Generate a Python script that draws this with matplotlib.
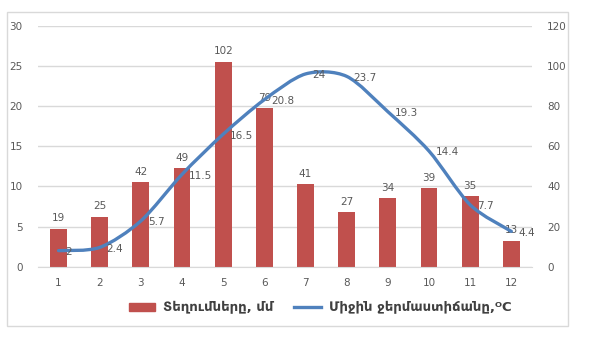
import matplotlib.pyplot as plt
import numpy as np
from matplotlib.path import Path
from matplotlib.patches import PathPatch, Rectangle
from matplotlib.lines import Line2D

# ամիսներ, տեղումներ (մմ) և միջին ջերմաստիճան (°C)
months = np.arange(1, 13)
precip = [19, 25, 42, 49, 102, 79, 41, 27, 34, 39, 35, 13]
temps = [2, 2.4, 5.7, 11.5, 16.5, 20.8, 24, 23.7, 19.3, 14.4, 7.7, 4.4]

bar_color = '#C0504D'
line_color = '#4F81BD'
text_color = '#595959'
grid_color = '#D9D9D9'

plt.rcParams['font.family'] = ['DejaVu Sans']


def smooth_path(x, y, k=7.0):
    # Catmull-Rom -> cubic Bezier, հարթեցված գիծ
    pts = np.column_stack([x, y]).astype(float)
    ext = np.vstack([pts[0], pts, pts[-1]])
    verts = [pts[0]]
    codes = [Path.MOVETO]
    for i in range(len(pts) - 1):
        p0, p1, p2, p3 = ext[i], ext[i + 1], ext[i + 2], ext[i + 3]
        c1 = p1 + (p2 - p0) / k
        c2 = p2 - (p3 - p1) / k
        verts += [c1, c2, p2]
        codes += [Path.CURVE4] * 3
    return Path(verts, codes)


fig = plt.figure(figsize=(5.98, 3.37), dpi=100)

# շրջանակ գծապատկերի շուրջ
fig.patches.append(Rectangle((7 / 598, 1 - 326 / 337), 561 / 598, 314 / 337,
                             transform=fig.transFigure, fill=False,
                             edgecolor=grid_color, linewidth=1.0))

ax2 = fig.add_axes([0.0635, 0.2086, 0.826, 0.715])
ax = ax2.twinx()
ax.yaxis.tick_left()
ax2.yaxis.tick_right()
ax.set_zorder(ax2.get_zorder() + 1)
ax.patch.set_visible(False)

# սյուներ՝ աջ առանցքի վրա
ax2.bar(months, precip, width=0.41, color=bar_color, zorder=2)
ax2.set_ylim(0, 120)
ax2.set_yticks(range(0, 121, 20))
ax2.set_xlim(0.5, 12.5)
ax2.grid(axis='y', color=grid_color, linewidth=1.0, zorder=0)
for m, v in zip(months, precip):
    ax2.annotate(str(v), (m, v), xytext=(0, 4), textcoords='offset points',
                 ha='center', va='bottom', fontsize=7.5, color=text_color)

# ջերմաստիճանի գիծը՝ ձախ առանցքի վրա
ax.add_patch(PathPatch(smooth_path(months, temps), facecolor='none',
                       edgecolor=line_color, linewidth=2.4, capstyle='round',
                       joinstyle='round'))
ax.set_ylim(0, 30)
ax.set_yticks(range(0, 31, 5))
ax.set_xlim(0.5, 12.5)
for m, t in zip(months, temps):
    ax.annotate(f'{t:g}', (m, t), xytext=(5, -1), textcoords='offset points',
                ha='left', va='center', fontsize=7.5, color=text_color)

ax2.set_xticks(months)
for a in (ax, ax2):
    for s in a.spines.values():
        s.set_visible(False)
    a.tick_params(length=0, labelsize=7.5, labelcolor=text_color)
ax2.spines['bottom'].set_visible(True)
ax2.spines['bottom'].set_color(grid_color)
ax.tick_params(axis='y', pad=11)
ax2.tick_params(axis='y', pad=11)
ax2.tick_params(axis='x', pad=8)

handles = [Rectangle((0, 0), 1, 1, color=bar_color),
           Line2D([], [], color=line_color, linewidth=2.4)]
labels = ['Տեղումները, մմ', 'Միջին ջերմաստիճանը,ᴼC']
fig.legend(handles, labels, loc='center', bbox_to_anchor=(0.535, 0.086),
           ncol=2, frameon=False, handlelength=2.0,
           handleheight=0.6, columnspacing=1.6, handletextpad=0.6,
           prop={'weight': 'bold', 'size': 9.5})
for t in fig.legends[0].get_texts():
    t.set_color('#404040')

fig.savefig('out.png', dpi=100)
